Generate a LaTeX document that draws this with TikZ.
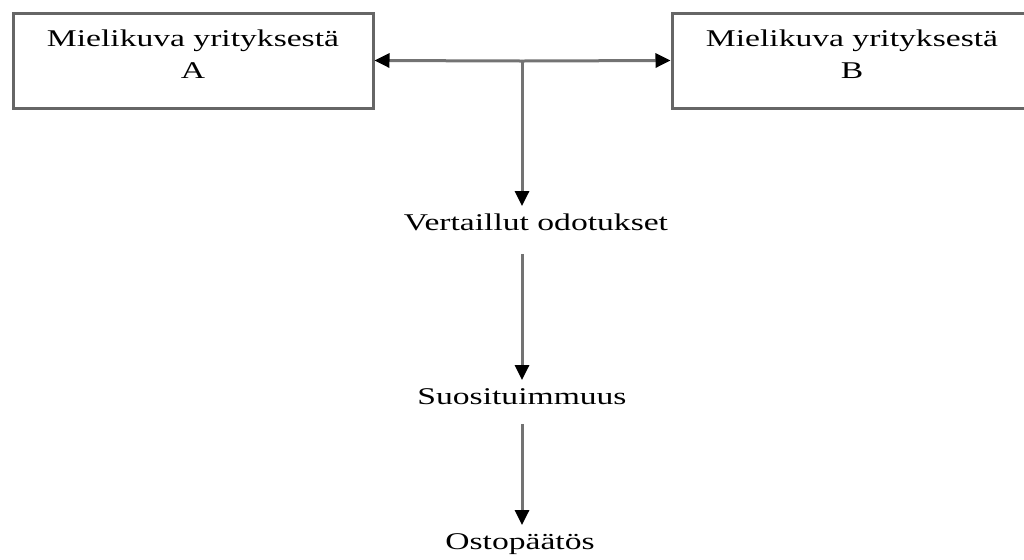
\documentclass[tikz,border=0pt]{standalone}
\usepackage{fontspec}
\newfontfamily\diagfont[FakeStretch=1.4]{Liberation Serif}
\usepackage{tikz}
\usetikzlibrary{arrows.meta,positioning}

\begin{document}
\begin{tikzpicture}[x=0.5pt,y=-0.5pt,
    font=\diagfont\fontsize{12}{16}\selectfont,
    imagebox/.style={draw=black!60,line width=1.5pt,minimum width=180pt,minimum height=47.5pt,align=center,inner sep=0pt,text depth=6pt},
    label/.style={inner xsep=0pt,inner ysep=4pt,text height=8pt,text depth=2.5pt},
    flow/.style={draw=black!55,line width=1.5pt,-{Triangle[length=7.5pt,width=7pt,color=black]}}]
  \useasboundingbox (0,0) rectangle (1024,559);
  \clip (0,0) rectangle (1024,559);
  \node[imagebox] (imgA) at (193,60.5) {Mielikuva yrityksestä\\A};
  \node[imagebox] (imgB) at (852,60.5) {Mielikuva yrityksestä\\B};
  \coordinate (junc) at (522,61);
  \node[label] (compare) at (536,225) {Vertaillut odotukset};
  \node[label] (prefer) at (522,399) {Suosituimmuus};
  \node[label] (decision) at (520,544) {Ostopäätös};
  \draw[flow] (junc) -- (imgA.east);
  \draw[flow] (junc) -- (imgB.west);
  \draw[flow] (junc) -- (junc |- compare.north);
  \draw[flow,shorten <=5pt] (junc |- compare.south) -- (prefer.north);
  \draw[flow,shorten <=3pt] (prefer.south) -- (prefer.south |- decision.north);
\end{tikzpicture}
\end{document}
